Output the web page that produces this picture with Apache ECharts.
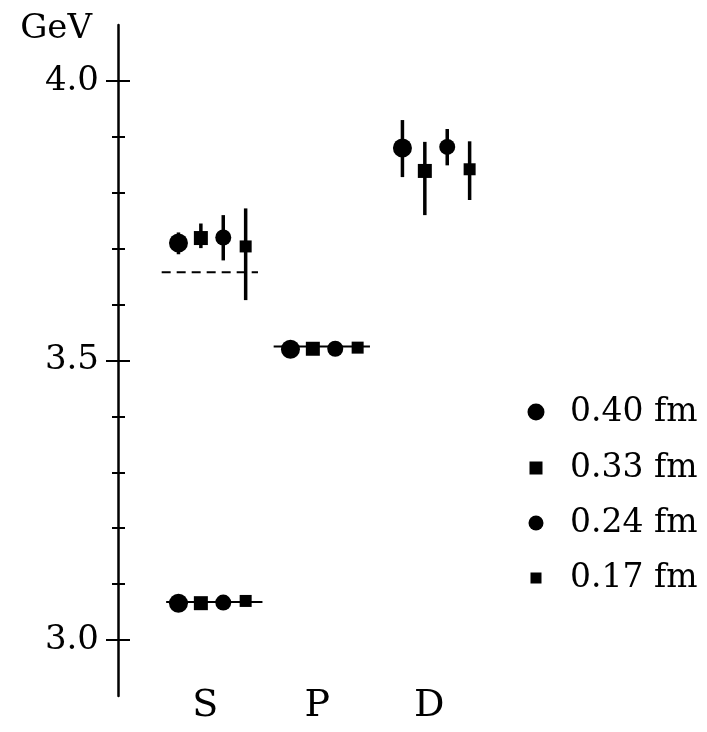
<!DOCTYPE html>
<html>
<head>
<meta charset="utf-8">
<script src="https://cdn.jsdelivr.net/npm/echarts@6/dist/echarts.min.js"></script>
<style>
  html, body { margin: 0; padding: 0; background: #fff; }
  #chart { width: 707px; height: 732px; }
</style>
</head>
<body>
<div id="chart"></div>
<script>
// ---------- data ----------
const spacings = ['0.40 fm', '0.33 fm', '0.24 fm', '0.17 fm'];
const states = ['1S', '2S', '1P', '1D'];
const stateGroup = [0, 0, 1, 2];          // which wave column (S, P, D)
const waveLabels = ['S', 'P', 'D'];

// masses (GeV) per lattice spacing, in order of `states`
const mass040 = [3.066, 3.710, 3.520, 3.880];
const mass033 = [3.066, 3.719, 3.521, 3.839];
const mass024 = [3.067, 3.720, 3.521, 3.882];
const mass017 = [3.070, 3.704, 3.523, 3.842];

// error bar ends (null = no visible bar)
const low040  = [null, 3.690, null, 3.828];
const high040 = [null, 3.729, null, 3.930];
const low033  = [null, 3.701, null, 3.760];
const high033 = [null, 3.745, null, 3.891];
const low024  = [null, 3.679, null, 3.849];
const high024 = [null, 3.760, null, 3.914];
const low017  = [null, 3.608, null, 3.787];
const high017 = [null, 3.772, null, 3.892];

// experimental reference levels
const expLevels = [3.068, 3.658, 3.525];
const expGroup  = [0, 0, 1];
const expDashed = [false, true, false];

// axis ticks
const yMin = 2.9, yMax = 4.1;
const majorTicks = [3.0, 3.5, 4.0];
const minorTicks = [3.1, 3.2, 3.3, 3.4, 3.6, 3.7, 3.8, 3.9];

// ---------- styling / layout ----------
const FONT = 'DejaVu Serif';
const masses = [mass040, mass033, mass024, mass017];
const lows = [low040, low033, low024, low017];
const highs = [high040, high033, high024, high017];
const symbols = ['circle', 'rect', 'circle', 'rect'];
const symbolSizes = [19, 14, 16, 12];
const seriesOffset = [-0.3, -0.1, 0.1, 0.3];
const legendSizes = [17, 13, 15, 11];
const legendRowY = [412, 468, 523, 578];
const legendMarkerX = 536, legendTextX = 570;
const legendFont = 33;

const series = [];
masses.forEach((m, i) => {
  series.push({
    name: spacings[i],
    type: 'scatter',
    symbol: symbols[i],
    symbolSize: symbolSizes[i],
    itemStyle: { color: '#000', opacity: 1 },
    z: 5,
    silent: true,
    data: m.map((v, j) => [stateGroup[j] + seriesOffset[i], v])
  });
  const errData = [];
  m.forEach((v, j) => {
    if (lows[i][j] != null) errData.push([stateGroup[j] + seriesOffset[i], lows[i][j], highs[i][j]]);
  });
  series.push({
    type: 'custom',
    silent: true,
    z: 4,
    renderItem: (params, api) => {
      const p1 = api.coord([api.value(0), api.value(1)]);
      const p2 = api.coord([api.value(0), api.value(2)]);
      return { type: 'line', shape: { x1: p1[0], y1: p1[1], x2: p2[0], y2: p2[1] },
               style: { stroke: '#000', lineWidth: 3.5 } };
    },
    encode: { x: 0, y: [1, 2] },
    data: errData
  });
});

const expStart = [-0.41, -0.45, -0.45];
const expEnd = [0.45, 0.41, 0.41];
expLevels.forEach((v, k) => {
  series.push({
    type: 'line',
    silent: true,
    symbol: 'none',
    z: 3,
    lineStyle: { color: '#000', width: 2, type: expDashed[k] ? [9, 6] : 'solid' },
    data: [[expGroup[k] + expStart[k], v], [expGroup[k] + expEnd[k], v]]
  });
});

function yAxisBase(extra) {
  const base = {
    type: 'value', min: yMin, max: yMax, position: 'left', offset: 0,
    axisLine: { show: false, onZero: false }, splitLine: { show: false },
    axisLabel: { show: false }
  };
  const out = Object.assign(base, extra);
  out.axisLine = Object.assign({ onZero: false }, out.axisLine);
  return out;
}

const yAxes = [
  yAxisBase({
    name: 'GeV',
    nameLocation: 'end',
    nameGap: -4,
    nameTextStyle: { fontFamily: FONT, fontSize: 34, color: '#000', align: 'right', verticalAlign: 'middle', padding: [0, 26, 0, 0] },
    axisLine: { show: true, onZero: false, lineStyle: { color: '#000', width: 2.5 } },
    axisTick: { show: true, customValues: majorTicks, length: 12, inside: false, lineStyle: { color: '#000', width: 2 } },
    axisLabel: { show: true, customValues: majorTicks, formatter: v => v.toFixed(1), margin: 19,
                 fontFamily: FONT, fontSize: 34, color: '#000' }
  }),
  yAxisBase({ axisTick: { show: true, customValues: majorTicks, length: 12, inside: true, lineStyle: { color: '#000', width: 2 } } }),
  yAxisBase({ axisTick: { show: true, customValues: minorTicks, length: 6, inside: false, lineStyle: { color: '#000', width: 2 } } }),
  yAxisBase({ axisTick: { show: true, customValues: minorTicks, length: 7, inside: true, lineStyle: { color: '#000', width: 2 } } })
];

const legends = spacings.map((name, i) => ({
  data: [{ name: name, icon: symbols[i] }],
  orient: 'vertical',
  left: legendMarkerX - legendSizes[i] / 2,
  top: legendRowY[i] - legendFont / 2,
  padding: 0,
  itemWidth: legendSizes[i],
  itemHeight: legendSizes[i],
  selectedMode: false,
  itemStyle: { color: '#000' },
  textStyle: { fontFamily: FONT, fontSize: legendFont, lineHeight: legendFont, color: '#000',
               padding: [0, 0, 0, legendTextX - legendMarkerX - legendSizes[i] / 2 - 5] }
}));

const chart = echarts.init(document.getElementById('chart'), null, { renderer: 'canvas' });
chart.setOption({
  animation: false,
  backgroundColor: '#fff',
  grid: { left: 118, top: 25, bottom: 36, width: 486, containLabel: false },
  xAxis: {
    type: 'value', min: -0.84, max: 3.5,
    axisLine: { show: false, onZero: false }, axisTick: { show: false }, splitLine: { show: false },
    axisLabel: { customValues: [-0.06, 0.94, 1.94], formatter: v => waveLabels[Math.round(v)],
                 fontFamily: FONT, fontSize: 38, color: '#000', verticalAlign: 'middle', margin: 10 }
  },
  yAxis: yAxes,
  legend: legends,
  series: series
});
</script>
</body>
</html>
